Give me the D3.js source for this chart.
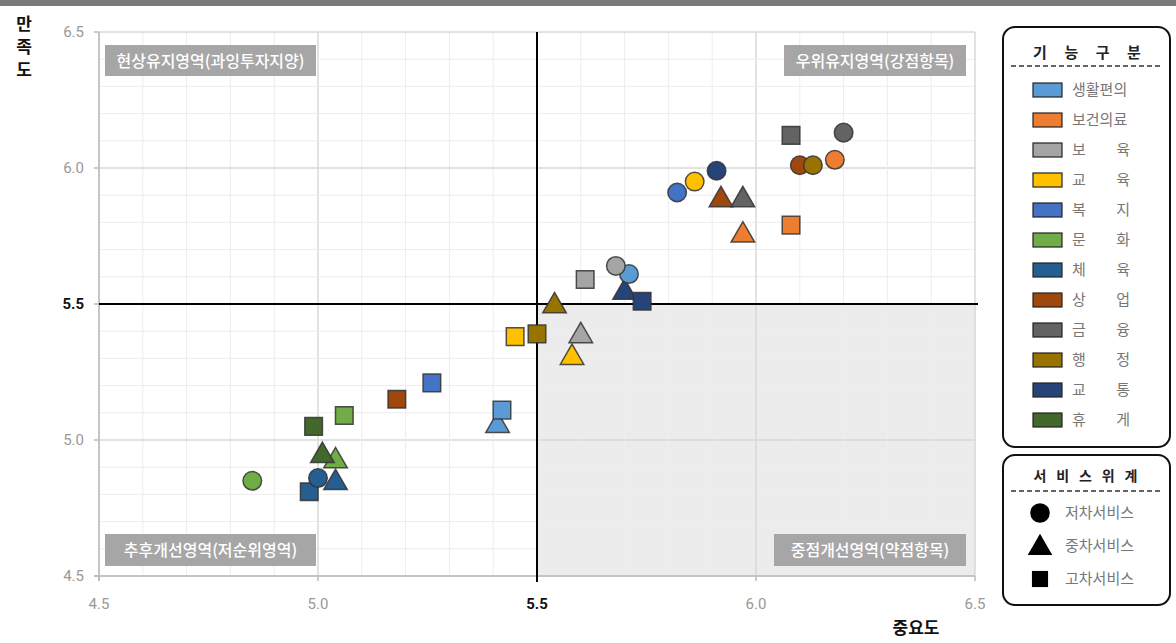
<!DOCTYPE html>
<html><head><meta charset="utf-8">
<script src="https://cdn.jsdelivr.net/npm/d3@7"></script>
<style>
body{margin:0;background:#fff;}
svg{display:block;font-family:"Noto Sans CJK KR","Noto Sans",Roboto,sans-serif;}
</style></head>
<body>
<svg id="c" width="1176" height="643"></svg>
<script>
const categories = ["생활편의","보건의료","보육","교육","복지","문화","체육","상업","금융","행정","교통","휴게"];
const legendLabels = ["생활편의","보건의료","보 육","교 육","복 지","문 화","체 육","상 업","금 융","행 정","교 통","휴 게"];
const colors = ["#5B9BD5","#ED7D31","#A5A5A5","#FFC000","#4472C4","#70AD47","#255E91","#9E480E","#636363","#997300","#264478","#43682B"];
// 저차서비스 (circle)
const lowX = [5.71, 6.18, 5.68, 5.86, 5.82, 4.85, 5.00, 6.10, 6.20, 6.13, 5.91, null];
const lowY = [5.61, 6.03, 5.64, 5.95, 5.91, 4.85, 4.86, 6.01, 6.13, 6.01, 5.99, null];
// 중차서비스 (triangle)
const midX = [5.41, 5.97, 5.60, 5.58, null, 5.04, 5.04, 5.92, 5.97, 5.54, 5.70, 5.01];
const midY = [5.06, 5.76, 5.39, 5.31, null, 4.93, 4.85, 5.89, 5.89, 5.50, 5.55, 4.95];
// 고차서비스 (square)
const highX = [5.42, 6.08, 5.61, 5.45, 5.26, 5.06, 4.98, 5.18, 6.08, 5.50, 5.74, 4.99];
const highY = [5.11, 5.79, 5.59, 5.38, 5.21, 5.09, 4.81, 5.15, 6.12, 5.39, 5.51, 5.05];
const tiers = ["저차서비스","중차서비스","고차서비스"];
const xTicks = [4.5, 5.0, 5.5, 6.0, 6.5];
const yTicks = [4.5, 5.0, 5.5, 6.0, 6.5];
const quadrantLabels = ["현상유지영역(과잉투자지양)","우위유지영역(강점항목)","추후개선영역(저순위영역)","중점개선영역(약점항목)"];
const xTitle = "중요도";
const yTitle = "만족도";
const legendTitle1 = "기능구분";
const legendTitle2 = "서비스위계";

const svg = d3.select("#c");
const x = d3.scaleLinear().domain([4.5, 6.5]).range([99, 975]);
const y = d3.scaleLinear().domain([4.5, 6.5]).range([576, 32]);

// top bar
svg.append("rect").attr("x",0).attr("y",0).attr("width",1176).attr("height",6).attr("fill","#7a7a7a");

// shaded quadrant
svg.append("rect").attr("x",x(5.5)).attr("y",y(5.5)).attr("width",x(6.5)-x(5.5)).attr("height",y(4.5)-y(5.5)).attr("fill","#ececec");

// grid
const minor = d3.range(45, 66).map(d => d/10);
const g = svg.append("g");
minor.forEach(v => {
  const major = Math.abs(v*2 - Math.round(v*2)) < 1e-6;
  g.append("line").attr("x1",x(v)).attr("x2",x(v)).attr("y1",y(6.5)).attr("y2",y(4.5))
    .attr("stroke", major ? "#d9d9d9" : "#ededed").attr("stroke-width", major?1.5:1);
  g.append("line").attr("y1",y(v)).attr("y2",y(v)).attr("x1",x(4.5)).attr("x2",x(6.5))
    .attr("stroke", major ? "#d9d9d9" : "#ededed").attr("stroke-width", major?1.5:1);
});
// axes lines
svg.append("line").attr("x1",x(4.5)).attr("x2",x(4.5)).attr("y1",y(6.5)).attr("y2",y(4.5)+5).attr("stroke","#bbb").attr("stroke-width",1.5);
svg.append("line").attr("x1",x(4.5)-5).attr("x2",x(6.5)).attr("y1",y(4.5)).attr("y2",y(4.5)).attr("stroke","#bbb").attr("stroke-width",1.5);
xTicks.forEach(v=>{ svg.append("line").attr("x1",x(v)).attr("x2",x(v)).attr("y1",y(4.5)).attr("y2",y(4.5)+5).attr("stroke","#bbb").attr("stroke-width",1.5); });
yTicks.forEach(v=>{ svg.append("line").attr("x1",x(4.5)-5).attr("x2",x(4.5)).attr("y1",y(v)).attr("y2",y(v)).attr("stroke","#bbb").attr("stroke-width",1.5); });

// tick labels
svg.selectAll(".xt").data(xTicks).join("text")
  .attr("x", d=>x(d)).attr("y", 609).attr("text-anchor","middle")
  .attr("font-family","Roboto, sans-serif").attr("font-size",15)
  .attr("font-weight", d=>d===5.5?"bold":"normal")
  .attr("fill", d=>d===5.5?"#111":"#999").text(d=>d.toFixed(1));
svg.selectAll(".yt").data(yTicks).join("text")
  .attr("x", 84).attr("y", d=>y(d)+5).attr("text-anchor","end")
  .attr("font-family","Roboto, sans-serif").attr("font-size",15)
  .attr("font-weight", d=>d===5.5?"bold":"normal")
  .attr("fill", d=>d===5.5?"#111":"#999").text(d=>d.toFixed(1));

// quadrant lines
svg.append("line").attr("x1",x(5.5)).attr("x2",x(5.5)).attr("y1",y(6.5)).attr("y2",y(4.5)+6).attr("stroke","#000").attr("stroke-width",2);
svg.append("line").attr("x1",x(4.5)).attr("x2",x(6.5)+3).attr("y1",y(5.5)).attr("y2",y(5.5)).attr("stroke","#000").attr("stroke-width",2);

// quadrant label boxes
const qb = [
  {t:quadrantLabels[0], x0:105, x1:316, y0:45, y1:76},
  {t:quadrantLabels[1], x0:784, x1:966, y0:45, y1:76},
  {t:quadrantLabels[2], x0:105, x1:316, y0:534, y1:566},
  {t:quadrantLabels[3], x0:774, x1:966, y0:534, y1:566}
];
qb.forEach(b=>{
  svg.append("rect").attr("x",b.x0).attr("y",b.y0).attr("width",b.x1-b.x0).attr("height",b.y1-b.y0).attr("fill","#a6a6a6");
  svg.append("text").attr("x",(b.x0+b.x1)/2).attr("y",(b.y0+b.y1)/2+6).attr("text-anchor","middle")
    .attr("font-size",16).attr("font-weight","500").attr("fill","#fff").text(b.t);
});

// axis titles
yTitle.split("").forEach((ch,i)=>{
  svg.append("text").attr("x",24).attr("y",30+i*23).attr("text-anchor","middle").attr("font-size",17).attr("font-weight","bold").attr("fill","#111").text(ch);
});
svg.append("text").attr("x",916).attr("y",634).attr("text-anchor","middle").attr("font-size",17).attr("font-weight","bold").attr("fill","#111").text(xTitle);

// points
const sym = [d3.symbolCircle, d3.symbolTriangle, d3.symbolSquare];
const sizes = [270, 240, 310];
const seriesX = [lowX, midX, highX], seriesY = [lowY, midY, highY];
const pts = [];
[1,2,0].forEach(t=>{
  categories.forEach((c,i)=>{
    if (seriesX[t][i]==null) return;
    pts.push({t, i, xv:seriesX[t][i], yv:seriesY[t][i]});
  });
});
svg.append("g").selectAll("path").data(pts).join("path")
  .attr("d", d=>d3.symbol().type(sym[d.t]).size(sizes[d.t])())
  .attr("transform", d=>`translate(${x(d.xv)},${y(d.yv) + (d.t===1?2:0)})`)
  .attr("fill", d=>colors[d.i]).attr("stroke","#333").attr("stroke-width",1.5).attr("stroke-opacity",0.85);

// spaced title helper
function spaced(sel, str, x0, x1, yy, size){
  const chars = str.split("");
  const step = (x1-x0)/(chars.length-1);
  chars.forEach((ch,k)=>{
    sel.append("text").attr("x",x0+k*step).attr("y",yy).attr("text-anchor","middle")
      .attr("font-size",size).attr("font-weight","bold").attr("fill","#222").text(ch);
  });
}

// legend 1
const L = svg.append("g");
L.append("rect").attr("x",1003).attr("y",27).attr("width",167).attr("height",420).attr("rx",12).attr("fill","#fff").attr("stroke","#111").attr("stroke-width",2);
spaced(L, legendTitle1, 1040, 1134, 58, 15);
L.append("line").attr("x1",1011).attr("x2",1163).attr("y1",66).attr("y2",66).attr("stroke","#333").attr("stroke-width",1.5).attr("stroke-dasharray","5,3");
categories.forEach((c,i)=>{
  const yy = 90 + i*30;
  L.append("rect").attr("x",1033).attr("y",yy-7).attr("width",29).attr("height",14).attr("fill",colors[i]).attr("stroke","#222").attr("stroke-width",1.2);
  if (legendLabels[i].includes(" ")) {
    const parts = legendLabels[i].split(" ");
    L.append("text").attr("x",1072).attr("y",yy+5).attr("font-size",15).attr("fill","#777").text(parts[0]);
    L.append("text").attr("x",1130).attr("y",yy+5).attr("text-anchor","end").attr("font-size",15).attr("fill","#777").text(parts[1]);
  } else {
    L.append("text").attr("x",1072).attr("y",yy+5).attr("font-size",15).attr("fill","#777").text(legendLabels[i]);
  }
});

// legend 2
const L2 = svg.append("g");
L2.append("rect").attr("x",1003).attr("y",455).attr("width",167).attr("height",150).attr("rx",12).attr("fill","#fff").attr("stroke","#111").attr("stroke-width",2);
spaced(L2, legendTitle2, 1040, 1131, 481, 14);
L2.append("line").attr("x1",1011).attr("x2",1163).attr("y1",491).attr("y2",491).attr("stroke","#333").attr("stroke-width",1.5).attr("stroke-dasharray","5,3");
tiers.forEach((t,i)=>{
  const yy = 513 + i*33;
  L2.append("path").attr("d", d3.symbol().type(sym[i]).size([300,260,260][i])()).attr("transform",`translate(1040,${yy + (i===1?2:0)})`).attr("fill","#000");
  L2.append("text").attr("x",1065).attr("y",yy+5).attr("font-size",15).attr("fill","#777").text(t);
});
</script>
</body></html>
